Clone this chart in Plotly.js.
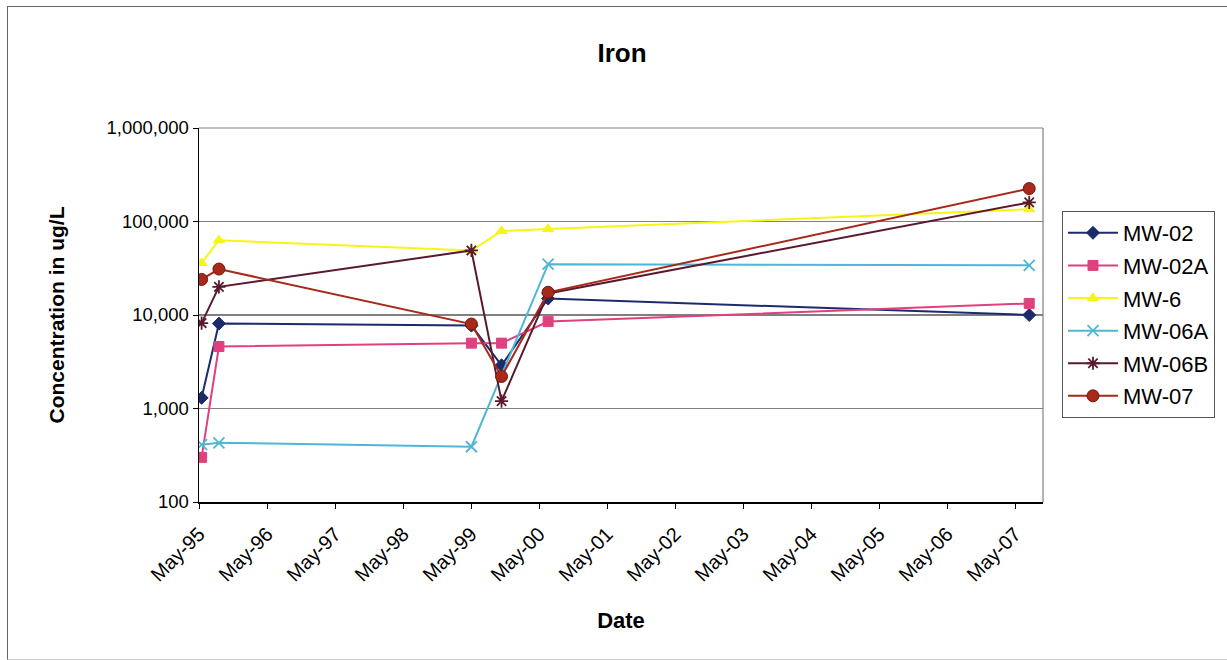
<!DOCTYPE html>
<html>
<head>
<meta charset="utf-8">
<script src="https://cdn.plot.ly/plotly-3.0.1.min.js"></script>
<style>
  html, body { margin: 0; padding: 0; background: #fff; }
  #wrap { position: relative; width: 1227px; height: 660px; overflow: hidden; }
  #chart { width: 1227px; height: 660px; }
  #frame { position: absolute; left: 7px; top: 6px; width: 1240px; height: 652px;
           border-left: 1.5px solid #666; border-top: 1.5px solid #666; border-bottom: 1px solid #ccc;
           pointer-events: none; }
</style>
</head>
<body>
<div id="wrap">
  <div id="chart"></div>
  <div id="frame"></div>
</div>
<script>
// Sampling dates
const dates = ["1995-05-15", "1995-08-16", "1999-05-03", "1999-10-12", "2000-06-18", "2007-07-16"];

// Series values (ug/L); null = no sample
const mw02  = [1300, 8100, 7700, 2900, 15000, 10000];
const mw02a = [300, 4600, 5000, 5000, 8500, 13300];
const mw6   = [36000, 63000, 49000, 79000, 83000, 135000];
const mw06a = [410, 430, 390, null, 35000, 34000];
const mw06b = [8200, 20000, 49000, 1200, 17000, 160000];
const mw07  = [24000, 31000, 8000, 2200, 17500, 225000];

const seriesNames = ["MW-02", "MW-02A", "MW-6", "MW-06A", "MW-06B", "MW-07"];

// Axis tick labels
const yTickVals = [100, 1000, 10000, 100000, 1000000];
const yTickText = ["100", "1,000", "10,000", "100,000", "1,000,000"];

const styles = [
  {color: "#1c2b6b", symbol: "diamond", size: 10, lineColor: "#1c2b6b"},
  {color: "#e0407f", symbol: "square", size: 10, lineColor: "#e0407f"},
  {color: "#f6f614", symbol: "triangle-up", size: 10, lineColor: "#f6f614"},
  {color: "#4fb6d6", symbol: "x-thin-open", size: 11, lineColor: "#4fb6d6"},
  {color: "#5a1a2c", symbol: "asterisk-open", size: 11, lineColor: "#5a1a2c"},
  {color: "#a8281a", symbol: "circle", size: 12, lineColor: "#6e1a10"}
];

const allVals = [mw02, mw02a, mw6, mw06a, mw06b, mw07];

const traces = allVals.map((vals, i) => {
  const xs = [], ys = [];
  vals.forEach((v, j) => { if (v !== null) { xs.push(dates[j]); ys.push(v); } });
  const s = styles[i];
  return {
    x: xs, y: ys, name: seriesNames[i], type: "scatter", mode: "lines+markers",
    legendgroup: "g" + i,
    line: {color: s.color, width: 2},
    marker: {symbol: s.symbol, size: s.size, color: s.color,
             line: {color: s.lineColor, width: (s.symbol.indexOf("open") >= 0) ? 1.8 : 1}}
  };
});

const layout = {
  width: 1227, height: 660,
  margin: {l: 199, r: 184, t: 128, b: 158},
  paper_bgcolor: "#fff", plot_bgcolor: "#fff",
  font: {family: "Liberation Sans, Arial, sans-serif", color: "#000", size: 18},
  title: {text: "<b>Iron</b>", x: 0.507, xanchor: "center", y: 0.92, yanchor: "middle",
          font: {size: 26, family: "Liberation Sans, Arial, sans-serif", color: "#000"}},
  xaxis: {
    type: "date",
    range: ["1995-05-01", "2007-09-28"],
    tick0: "1995-05-01", dtick: "M12", tickformat: "%b-%y",
    tickangle: -45, ticks: "outside", ticklen: 5, tickcolor: "#000",
    ticklabelstandoff: 6,
    showgrid: false, showline: true, linecolor: "#000", linewidth: 1.5,
    mirror: false, zeroline: false,
    tickfont: {size: 20},
    title: {text: "<b>Date</b>", font: {size: 22}, standoff: 28}
  },
  yaxis: {
    type: "log", range: [2, 6],
    tickvals: yTickVals, ticktext: yTickText,
    ticks: "outside", ticklen: 5, tickcolor: "#000",
    showgrid: true, gridcolor: "#808080", gridwidth: 1.2,
    showline: true, linecolor: "#000", linewidth: 1.5, zeroline: false,
    tickfont: {size: 18.5},
    title: {text: "<b>Concentration in ug/L</b>", font: {size: 21}, standoff: 36}
  },
  shapes: [
    {type: "line", xref: "paper", yref: "paper", x0: 1, x1: 1, y0: 0, y1: 1, line: {color: "#808080", width: 1.2}},
    {type: "line", xref: "paper", yref: "paper", x0: 0, x1: 1, y0: 1, y1: 1, line: {color: "#808080", width: 1.2}}
  ],
  legend: {
    x: 1.0225, y: 0.778, xanchor: "left", yanchor: "top",
    bordercolor: "#555", borderwidth: 1, bgcolor: "#fff",
    font: {size: 22}, tracegroupgap: 1, itemwidth: 50
  },
  showlegend: true
};

Plotly.newPlot("chart", traces, layout, {staticPlot: true, displayModeBar: false});
</script>
</body>
</html>
